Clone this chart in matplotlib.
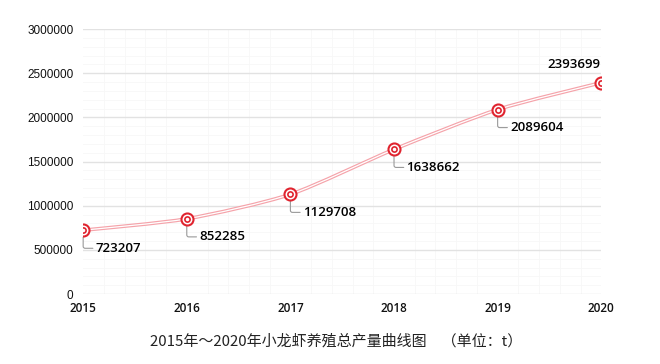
import numpy as np
import matplotlib
matplotlib.use('Agg')
import matplotlib.pyplot as plt
from matplotlib.path import Path
from matplotlib.patches import PathPatch

plt.rcParams['font.family'] = ['Noto Sans CJK SC', 'DejaVu Sans']

# data
years = [2015, 2016, 2017, 2018, 2019, 2020]
output = [723207, 852285, 1129708, 1638662, 2089604, 2393699]
yticks = [0, 500000, 1000000, 1500000, 2000000, 2500000, 3000000]
title = '2015年～2020年小龙虾养殖总产量曲线图　（单位：t）'


def smooth_path(x, y, k=0.12):
    ''' bezier path through the points (catmull-rom style) '''
    x = np.asarray(x, float)
    y = np.asarray(y, float)
    verts = [(x[0], y[0])]
    codes = [Path.MOVETO]
    n = len(x)
    for i in range(n - 1):
        i0 = max(i - 1, 0)
        i3 = min(i + 2, n - 1)
        c1 = (x[i] + k * (x[i + 1] - x[i0]), y[i] + k * (y[i + 1] - y[i0]))
        c2 = (x[i + 1] - k * (x[i3] - x[i]), y[i + 1] - k * (y[i3] - y[i]))
        verts += [c1, c2, (x[i + 1], y[i + 1])]
        codes += [Path.CURVE4] * 3
    return Path(verts, codes)


fig = plt.figure(figsize=(6.6, 3.64), dpi=100)
ax = fig.add_axes([0.126, 0.192, 0.785, 0.728])

ax.set_xlim(years[0], years[-1])
ax.set_ylim(0, 3000000)
for s in ax.spines.values():
    s.set_visible(False)

# faint background grid
ax.set_xticks(np.linspace(years[0], years[-1], 26), minor=True)
ax.set_yticks(np.linspace(0, 3000000, 31), minor=True)
ax.grid(True, which='minor', color='#f7f7f7', lw=0.6)
ax.grid(True, which='major', axis='y', color='#e2e2e2', lw=1.0)
ax.tick_params(which='minor', length=0)
ax.tick_params(which='major', length=0)

ax.set_xticks(years)
ax.set_xticklabels([str(y) for y in years], fontsize=8.5, color='#111111',
                   family=['Open Sans', 'DejaVu Sans'], weight='semibold')
ax.set_yticks(yticks)
ax.set_yticklabels([str(v) for v in yticks], fontsize=8.5, color='#111111',
                   family=['Liberation Sans', 'DejaVu Sans'])
ax.tick_params(axis='x', pad=6)
ax.tick_params(axis='y', pad=7)
ax.set_axisbelow(True)

# double pink line
p = smooth_path(years, output)
ax.add_patch(PathPatch(p, fc='none', ec='#f5a3aa', lw=2.6, zorder=3))
ax.add_patch(PathPatch(p, fc='none', ec='white', lw=0.9, zorder=3))

# target markers
ax.scatter(years, output, s=75, facecolor='white', edgecolor='#e0242f', lw=1.5, zorder=5)
ax.scatter(years, output, s=14, facecolor='white', edgecolor='#e0242f', lw=1.2, zorder=6)

# value labels with leader lines
for i, (x, y) in enumerate(zip(years, output)):
    if i == len(years) - 1:
        ax.annotate(str(y), (x, y), xytext=(-20, 13), textcoords='offset points',
                    fontsize=9.5, ha='center', va='center', color='#000000',
                    family=['Open Sans', 'DejaVu Sans'], weight='semibold')
    else:
        ax.annotate('', (x, y), xytext=(7, -13), textcoords='offset points',
                    arrowprops=dict(arrowstyle='-', color='#999999', lw=0.8,
                                    connectionstyle='angle,angleA=0,angleB=90,rad=2',
                                    shrinkA=0, shrinkB=5), zorder=4)
        ax.annotate(str(y), (x, y), xytext=(9, -13), textcoords='offset points',
                    fontsize=9.5, ha='left', va='center', color='#000000',
                    family=['Open Sans', 'DejaVu Sans'], weight='semibold')

fig.text(0.51, 0.063, title, ha='center', va='center', fontsize=10.8, color='#222222')

fig.savefig('out.png', dpi=100, facecolor='white')
